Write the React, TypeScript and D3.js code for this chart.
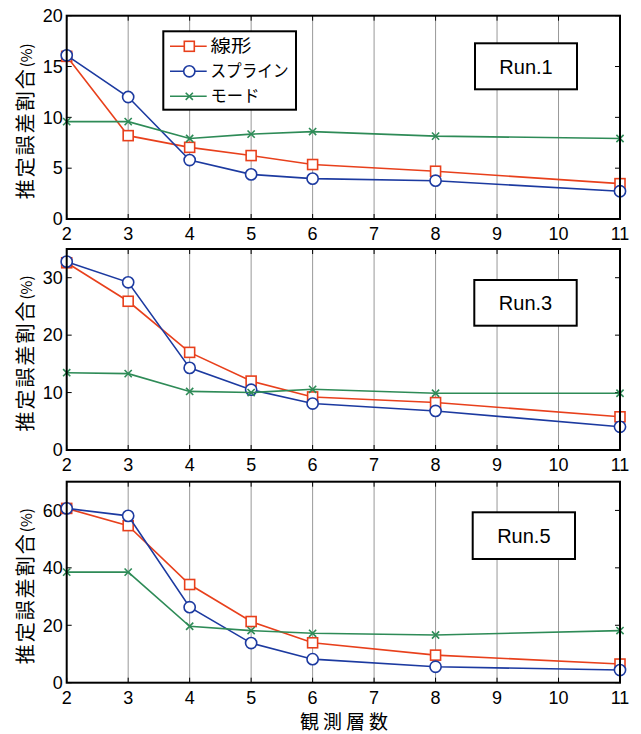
import React from "react";
import * as d3 from "d3";

const xValues = [2, 3, 4, 5, 6, 8, 11];
const xTicks = [2, 3, 4, 5, 6, 7, 8, 9, 10, 11];

const seriesNames = ["線形", "スプライン", "モード"];
const legendTextWidths = [41, 78, 49];

const run1Linear = [16.0, 8.2, 7.05, 6.24, 5.36, 4.7, 3.48];
const run1Spline = [16.1, 12.0, 5.8, 4.39, 3.97, 3.77, 2.73];
const run1Mode = [9.58, 9.58, 7.92, 8.35, 8.6, 8.15, 7.92];

const run3Linear = [32.6, 25.9, 17.0, 12.0, 9.24, 8.26, 5.78];
const run3Spline = [32.8, 29.2, 14.3, 10.5, 8.09, 6.8, 4.04];
const run3Mode = [13.46, 13.3, 10.2, 10.0, 10.57, 9.88, 9.88];

const run5Linear = [60.7, 54.7, 34.2, 21.3, 13.9, 9.6, 6.5];
const run5Spline = [60.7, 58.1, 26.3, 13.8, 8.2, 5.56, 4.4];
const run5Mode = [38.5, 38.5, 19.65, 18.15, 17.2, 16.6, 18.15];

const runLabels = ["Run.1", "Run.3", "Run.5"];
const yMaxes = [20, 35, 70];
const yTickSets = [
  [0, 5, 10, 15, 20],
  [0, 10, 20, 30],
  [0, 20, 40, 60],
];

const yAxisTitle = "推定誤差割合";
const yAxisUnit = "(%)";
const xAxisTitle = "観測層数";

const COLORS = ["#e8401c", "#1c3aa0", "#2e8b57"];
const JP = "'Noto Sans CJK JP', 'Noto Sans', sans-serif";
const LAT = "'Liberation Sans', Arial, sans-serif";

const panels = [
  { top: 15.7, bottom: 219, data: [run1Linear, run1Spline, run1Mode], box: { x: 475, y: 43.3, w: 102, h: 46 } },
  { top: 249, bottom: 450, data: [run3Linear, run3Spline, run3Mode], box: { x: 474.3, y: 280, w: 102.4, h: 45.7 } },
  { top: 481.7, bottom: 682.7, data: [run5Linear, run5Spline, run5Mode], box: { x: 472.7, y: 512.3, w: 102.3, h: 46.7 } },
];

const LEFT = 66.7;
const RIGHT = 620;

function Marker({ kind, x, y, color }: { kind: number; x: number; y: number; color: string }) {
  if (kind === 0) {
    const s = 10;
    return <rect x={x - s / 2} y={y - s / 2} width={s} height={s} fill="#fff" stroke={color} strokeWidth={1.6} />;
  }
  if (kind === 1) {
    return <circle cx={x} cy={y} r={5.6} fill="#fff" stroke={color} strokeWidth={1.6} />;
  }
  const d = 3.6;
  return (
    <path
      d={`M${x - d},${y - d}L${x + d},${y + d}M${x - d},${y + d}L${x + d},${y - d}`}
      stroke={color}
      strokeWidth={1.6}
      fill="none"
    />
  );
}

function Panel({ idx }: { idx: number }) {
  const p = panels[idx];
  const x = d3.scaleLinear().domain([2, 11]).range([LEFT, RIGHT]);
  const y = d3.scaleLinear().domain([0, yMaxes[idx]]).range([p.bottom, p.top]);
  const line = d3
    .line<number>()
    .x((_, i) => x(xValues[i]))
    .y((v) => y(v));
  const tk = 5;
  const midY = (p.top + p.bottom) / 2 + 4;
  return (
    <g>
      {xTicks.slice(1, -1).map((t) => (
        <line key={"g" + t} x1={x(t)} x2={x(t)} y1={p.top} y2={p.bottom} stroke="#8c8c8c" strokeWidth={0.9} />
      ))}
      {xTicks.map((t) => (
        <g key={"t" + t}>
          <line x1={x(t)} x2={x(t)} y1={p.top} y2={p.top + tk} stroke="#000" strokeWidth={1} />
          <line x1={x(t)} x2={x(t)} y1={p.bottom} y2={p.bottom - tk} stroke="#000" strokeWidth={1} />
          <text x={x(t)} y={p.bottom + 21} textAnchor="middle" fontFamily={LAT} fontSize={18} fill="#000">
            {t}
          </text>
        </g>
      ))}
      {yTickSets[idx].map((t) => (
        <g key={"y" + t}>
          <line x1={LEFT} x2={LEFT + tk} y1={y(t)} y2={y(t)} stroke="#000" strokeWidth={1} />
          <line x1={RIGHT} x2={RIGHT - tk} y1={y(t)} y2={y(t)} stroke="#000" strokeWidth={1} />
          <text x={LEFT - 4} y={y(t)} dy="0.35em" textAnchor="end" fontFamily={LAT} fontSize={18} fill="#000">
            {t}
          </text>
        </g>
      ))}
      {p.data.map((vals, si) => (
        <g key={"s" + si}>
          <path d={line(vals) || ""} fill="none" stroke={COLORS[si]} strokeWidth={1.6} />
          {vals.map((v, i) => (
            <Marker key={i} kind={si} x={x(xValues[i])} y={y(v)} color={COLORS[si]} />
          ))}
        </g>
      ))}
      <rect x={LEFT} y={p.top} width={RIGHT - LEFT} height={p.bottom - p.top} fill="none" stroke="#000" strokeWidth={2} />
      <rect x={p.box.x} y={p.box.y} width={p.box.w} height={p.box.h} fill="#fff" stroke="#000" strokeWidth={2} />
      <text
        x={p.box.x + p.box.w / 2}
        y={p.box.y + p.box.h / 2}
        dy="0.36em"
        textAnchor="middle"
        fontFamily={LAT}
        fontSize={20}
        fill="#000"
      >
        {runLabels[idx]}
      </text>
      <text
        transform={`translate(33,${midY}) rotate(-90)`}
        textAnchor="middle"
        fontFamily={JP}
        fontSize={20}
        letterSpacing={2}
        fill="#000"
      >
        {yAxisTitle}
        <tspan fontSize={15} letterSpacing={0} dy={-1}>
          {yAxisUnit}
        </tspan>
      </text>
    </g>
  );
}

function Legend() {
  const bx = 163.3,
    by = 31.3,
    bw = 132.7,
    bh = 78.4;
  const rows = [46.3, 71.3, 96.3];
  return (
    <g>
      <rect x={bx} y={by} width={bw} height={bh} fill="#fff" stroke="#000" strokeWidth={2} />
      {seriesNames.map((n, i) => (
        <g key={n}>
          <line x1={170} x2={206.7} y1={rows[i]} y2={rows[i]} stroke={COLORS[i]} strokeWidth={1.6} />
          <Marker kind={i} x={189.3} y={rows[i]} color={COLORS[i]} />
          <text
            x={210.5}
            y={rows[i]}
            dy="0.36em"
            fontFamily={JP}
            fontSize={17}
            textLength={legendTextWidths[i]}
            lengthAdjust="spacingAndGlyphs"
            fill="#000"
          >
            {n}
          </text>
        </g>
      ))}
    </g>
  );
}

export default function App() {
  return (
    <svg
      width={641}
      height={734}
      viewBox="0 0 641 734"
      style={{ position: "absolute", left: 0, top: 0, background: "#fff" }}
    >
      <rect x={0} y={0} width={641} height={734} fill="#fff" />
      {panels.map((_, i) => (
        <Panel key={i} idx={i} />
      ))}
      <Legend />
      <text x={346} y={729} textAnchor="middle" fontFamily={JP} fontSize={19} letterSpacing={4} fill="#000">
        {xAxisTitle}
      </text>
    </svg>
  );
}
